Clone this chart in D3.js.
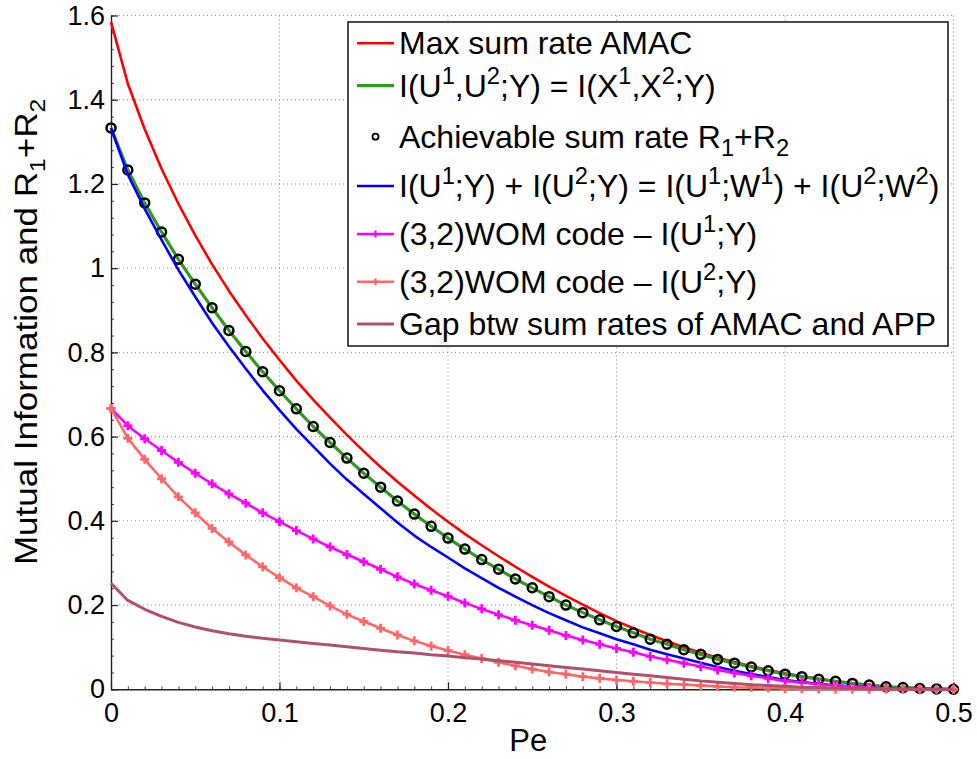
<!DOCTYPE html>
<html><head><meta charset="utf-8">
<script src="https://cdn.jsdelivr.net/npm/d3@7"></script>
<style>
body{margin:0;background:#fff}
svg{display:block}
text{font-family:"Liberation Sans",Arial,Helvetica,sans-serif;fill:#000}
</style>
</head><body>
<svg id="chart" width="977" height="759"></svg>
<script>
// ---------------- data ----------------
const pe = [0,0.01,0.02,0.03,0.04,0.05,0.06,0.07,0.08,0.09,0.10,0.11,0.12,0.13,0.14,0.15,0.16,0.17,0.18,0.19,0.20,
  0.21,0.22,0.23,0.24,0.25,0.26,0.27,0.28,0.29,0.30,0.31,0.32,0.33,0.34,0.35,0.36,0.37,0.38,0.39,0.40,
  0.41,0.42,0.43,0.44,0.45,0.46,0.47,0.48,0.49,0.50];
const maxSumAMAC = [1.585,1.438,1.330,1.236,1.153,1.078,1.009,0.946,0.888,0.833,0.782,0.733,0.688,0.645,0.604,0.565,0.528,0.493,0.460,0.428,0.398,
  0.369,0.342,0.316,0.291,0.267,0.244,0.222,0.201,0.181,0.162,0.145,0.129,0.114,0.100,0.087,0.075,0.065,0.055,0.046,0.038,
  0.031,0.025,0.019,0.014,0.010,0.006,0.004,0.002,0.001,0];
const sumRateU1U2 = [1.333,1.233,1.155,1.086,1.021,0.962,0.906,0.852,0.802,0.754,0.709,0.666,0.624,0.586,0.549,0.513,0.480,0.447,0.416,0.387,0.359,
  0.333,0.308,0.285,0.262,0.241,0.220,0.200,0.182,0.165,0.149,0.134,0.119,0.107,0.094,0.083,0.071,0.062,0.053,0.044,0.036,
  0.030,0.024,0.019,0.014,0.010,0.006,0.004,0.002,0.001,0];
const achievableSum = [1.333,1.233,1.155,1.086,1.021,0.962,0.906,0.852,0.802,0.754,0.709,0.666,0.624,0.586,0.549,0.513,0.480,0.447,0.416,0.387,0.359,
  0.333,0.308,0.285,0.262,0.241,0.220,0.200,0.182,0.165,0.149,0.134,0.119,0.107,0.094,0.083,0.071,0.062,0.053,0.044,0.036,
  0.030,0.024,0.019,0.014,0.010,0.006,0.004,0.002,0.001,0];
const sumIndividual = [1.333,1.222,1.141,1.067,0.996,0.932,0.870,0.814,0.761,0.710,0.663,0.618,0.577,0.536,0.498,0.464,0.430,0.396,0.365,0.338,0.313,
  0.287,0.264,0.241,0.220,0.200,0.181,0.164,0.147,0.133,0.119,0.107,0.094,0.083,0.073,0.063,0.053,0.044,0.036,0.029,0.022,
  0.0175,0.013,0.0097,0.0064,0.0042,0.002,0.001,0.0005,0.0001,0];
const womU1 = [0.667,0.626,0.595,0.567,0.539,0.513,0.488,0.464,0.442,0.419,0.398,0.377,0.357,0.338,0.320,0.303,0.285,0.267,0.250,0.235,0.221,
  0.205,0.191,0.177,0.164,0.152,0.140,0.128,0.117,0.107,0.097,0.088,0.078,0.070,0.062,0.054,0.046,0.039,0.032,0.026,0.020,
  0.016,0.012,0.009,0.006,0.004,0.002,0.001,0.0005,0.0001,0];
const womU2 = [0.667,0.596,0.546,0.500,0.457,0.419,0.382,0.350,0.319,0.291,0.265,0.241,0.220,0.198,0.178,0.161,0.145,0.129,0.115,0.103,0.092,
  0.082,0.073,0.064,0.056,0.048,0.041,0.036,0.030,0.026,0.022,0.019,0.016,0.013,0.011,0.009,0.007,0.005,0.004,0.003,0.002,
  0.0015,0.001,0.0007,0.0004,0.0002,0,0,0,0,0];
const gapAMAC_APP = [0.252,0.211,0.190,0.173,0.159,0.148,0.139,0.132,0.126,0.121,0.117,0.113,0.109,0.105,0.101,0.097,0.093,0.089,0.086,0.082,0.079,
  0.075,0.072,0.068,0.064,0.060,0.056,0.052,0.048,0.044,0.040,0.036,0.032,0.028,0.024,0.020,0.017,0.014,0.011,0.009,0.007,
  0.005,0.004,0.003,0.002,0.001,0.0006,0.0003,0.0001,0,0];
const xTicks = [0,0.1,0.2,0.3,0.4,0.5];
const xTickLabels = ["0","0.1","0.2","0.3","0.4","0.5"];
const yTicks = [0,0.2,0.4,0.6,0.8,1.0,1.2,1.4,1.6];
const yTickLabels = ["0","0.2","0.4","0.6","0.8","1","1.2","1.4","1.6"];
const xLabel = "Pe";
const yLabelParts = [["Mutual Information and R",""],["1","sub"],["+R",""],["2","sub"]];

const legendEntries = [
  {key:"red",   parts:[["Max sum rate AMAC",""]]},
  {key:"green", parts:[["I(U",""],["1","sup"],[",U",""],["2","sup"],[";Y) = I(X",""],["1","sup"],[",X",""],["2","sup"],[";Y)",""]]},
  {key:"circ",  parts:[["Achievable sum rate R",""],["1","sub"],["+R",""],["2","sub"]]},
  {key:"blue",  parts:[["I(U",""],["1","sup"],[";Y) + I(U",""],["2","sup"],[";Y) = I(U",""],["1","sup"],[";W",""],["1","sup"],[") + I(U",""],["2","sup"],[";W",""],["2","sup"],[")",""]]},
  {key:"mag",   parts:[["(3,2)WOM code \u2013 I(U",""],["1","sup"],[";Y)",""]]},
  {key:"sal",   parts:[["(3,2)WOM code \u2013 I(U",""],["2","sup"],[";Y)",""]]},
  {key:"gap",   parts:[["Gap btw sum rates of AMAC and APP",""]]}
];

// ---------------- layout ----------------
const svg = d3.select("#chart");
const L = 111, R = 953.5, T = 15.5, B = 689.3;
const x = d3.scaleLinear().domain([0,0.5]).range([L,R]);
const y = d3.scaleLinear().domain([0,1.6]).range([B,T]);

const styles = {
  red:  {color:"#ff0000", w:2.6},
  green:{color:"#2f9a1f", w:3.2},
  blue: {color:"#0000ff", w:2.6},
  mag:  {color:"#ff00ff", w:2.6, plus:true},
  sal:  {color:"#ff6666", w:2.6, plus:true},
  gap:  {color:"#b0506a", w:3.0}
};

// grid
const grid = svg.append("g");
xTicks.filter(d=>d>0).forEach(d=>{
  grid.append("line").attr("x1",x(d)).attr("x2",x(d)).attr("y1",T).attr("y2",B)
    .attr("stroke","#8a8a8a").attr("stroke-width",1).attr("stroke-dasharray","1,3");
});
yTicks.filter(d=>d>0).forEach(d=>{
  grid.append("line").attr("x1",L).attr("x2",R).attr("y1",y(d)).attr("y2",y(d))
    .attr("stroke","#8a8a8a").attr("stroke-width",1).attr("stroke-dasharray","1,3");
});

// minor ticks
const minorX = d3.axisBottom(x).tickValues(d3.range(0,0.5001,0.01)).tickSize(-3).tickFormat("");
svg.append("g").attr("transform",`translate(0,${B})`).call(minorX)
  .call(g=>g.select(".domain").remove()).selectAll("line").attr("stroke","#444");
const minorY = d3.axisLeft(y).tickValues(d3.range(0,1.6001,0.04)).tickSize(-3).tickFormat("");
svg.append("g").attr("transform",`translate(${L},0)`).call(minorY)
  .call(g=>g.select(".domain").remove()).selectAll("line").attr("stroke","#444");

// axes
const xAxis = d3.axisBottom(x).tickValues(xTicks).tickFormat((d,i)=>xTickLabels[i]).tickSizeInner(-7).tickSizeOuter(0).tickPadding(14);
const gx = svg.append("g").attr("transform",`translate(0,${B})`).call(xAxis);
gx.select(".domain").attr("stroke","#222").attr("stroke-width",1.4);
gx.selectAll(".tick line").attr("stroke","#222").attr("stroke-width",1.2);
gx.selectAll("text").attr("font-size",27).attr("font-family","Liberation Sans, Arial, sans-serif").attr("fill","#000");

const yAxis = d3.axisLeft(y).tickValues(yTicks).tickFormat((d,i)=>yTickLabels[i]).tickSizeInner(-7).tickSizeOuter(0).tickPadding(6);
const gy = svg.append("g").attr("transform",`translate(${L},0)`).call(yAxis);
gy.select(".domain").attr("stroke","#222").attr("stroke-width",1.4);
gy.selectAll(".tick line").attr("stroke","#222").attr("stroke-width",1.2);
gy.selectAll("text").attr("font-size",27).attr("font-family","Liberation Sans, Arial, sans-serif").attr("fill","#000");

// series
const line = d3.line().x((d,i)=>x(pe[i])).y(d=>y(d));
const plotG = svg.append("g");
function drawLine(vals, st){
  plotG.append("path").attr("d",line(vals)).attr("fill","none")
    .attr("stroke",st.color).attr("stroke-width",st.w).attr("stroke-linejoin","round");
  if(st.plus){
    plotG.append("g").selectAll("path").data(vals).join("path")
      .attr("transform",(d,i)=>`translate(${x(pe[i])},${y(d)})`)
      .attr("d","M-4.5,0H4.5M0,-4.5V4.5").attr("stroke",st.color).attr("stroke-width",2.8).attr("fill","none");
  }
}
drawLine(maxSumAMAC, styles.red);
drawLine(sumRateU1U2, styles.green);
plotG.append("g").selectAll("circle").data(achievableSum).join("circle")
  .attr("cx",(d,i)=>x(pe[i])).attr("cy",d=>y(d)).attr("r",4.5)
  .attr("fill","none").attr("stroke","#000").attr("stroke-width",2.5);
drawLine(sumIndividual, styles.blue);
drawLine(womU1, styles.mag);
drawLine(womU2, styles.sal);
drawLine(gapAMAC_APP, styles.gap);

// rich text helper
function rich(sel, parts, fs, ratio){
  let shift = 0;
  parts.forEach(([t,m])=>{
    const target = m==="sup" ? -0.40*fs : m==="sub" ? 0.26*fs : 0;
    sel.append("tspan").attr("dy",target-shift).attr("font-size", m ? fs*ratio : fs).text(t);
    shift = target;
  });
}

// axis labels
svg.append("text").attr("x",(L+R)/2 - 4).attr("y",751).attr("text-anchor","middle")
  .attr("font-size",31).text(xLabel);
const yl = svg.append("text").attr("transform","translate(37,332) rotate(-90) scale(1.13,1)").attr("text-anchor","middle");
rich(yl, yLabelParts, 31, 0.7);

// legend
const lg = svg.append("g");
lg.append("rect").attr("x",348).attr("y",22).attr("width",600).attr("height",324)
  .attr("fill","#fff").attr("stroke","#000").attr("stroke-width",1.4);
const rowY = [43.3,85.7,136.7,186,234,281.7,324];
legendEntries.forEach((e,i)=>{
  const yy = rowY[i];
  if(e.key==="circ"){
    lg.append("circle").attr("cx",375.5).attr("cy",yy).attr("r",3).attr("fill","none").attr("stroke","#000").attr("stroke-width",1.8);
  } else {
    const st = styles[e.key];
    lg.append("line").attr("x1",357).attr("x2",394).attr("y1",yy).attr("y2",yy)
      .attr("stroke",st.color).attr("stroke-width",st.w);
    if(st.plus){
      lg.append("path").attr("transform",`translate(375.5,${yy})`).attr("d","M-3,0H3M0,-3.5V3.5")
        .attr("stroke",st.color).attr("stroke-width",2.2);
    }
  }
  const t = lg.append("text").attr("x",399).attr("y",yy+11);
  rich(t, e.parts, 32, 0.74);
});
</script>
</body></html>
